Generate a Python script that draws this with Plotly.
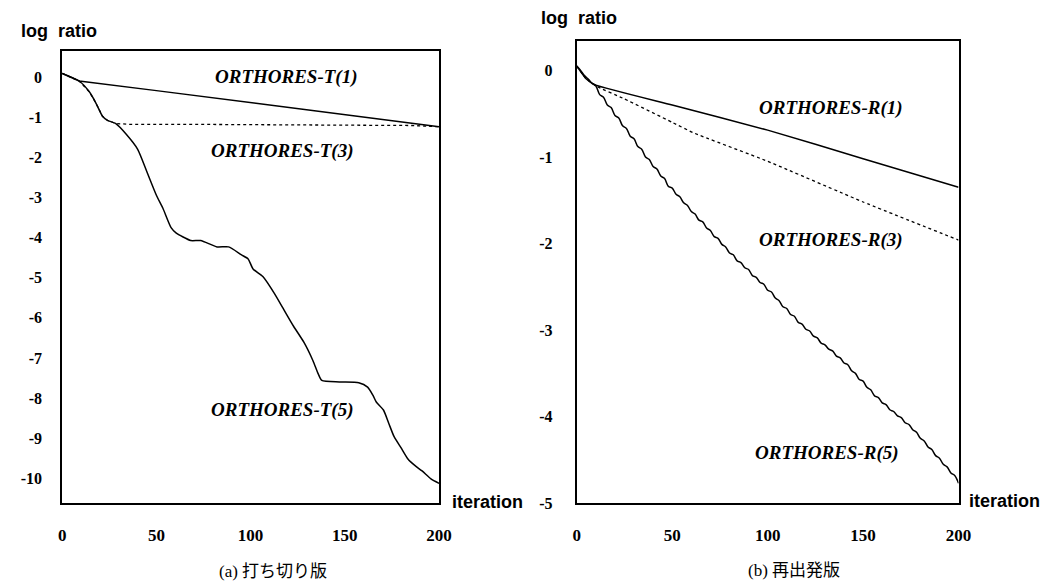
import plotly.graph_objects as go

# ---------------- data ----------------
# (a) truncated version
t1_x = [0, 9, 50, 100, 150, 200]
t1_y = [0.10, -0.09, -0.33, -0.63, -0.93, -1.23]

t3_x = [0, 9, 14.4, 17.9, 21.4, 24, 28.3, 35, 60, 100, 150, 185, 200]
t3_y = [0.10, -0.09, -0.36, -0.64, -0.97, -1.07, -1.15, -1.17, -1.17, -1.18, -1.19, -1.20, -1.23]

t5_x = [0, 9, 14.4, 17.9, 21.4, 24, 28.3, 34, 40, 45, 50, 53.4, 57.8, 60.4, 68.2, 73.5,
        82.2, 88.3, 95.2, 98.7, 101.3, 106.5, 112.6, 117.2, 122.8, 128.4, 133.1, 135.9,
        137.8, 147.1, 157.4, 162.1, 164.9, 166.7, 170.5, 173.3, 176.1, 179.8, 183.6,
        187.3, 191, 195.7, 200]
t5_y = [0.10, -0.09, -0.36, -0.64, -0.97, -1.07, -1.15, -1.42, -1.79, -2.36, -2.94, -3.26,
        -3.75, -3.88, -4.07, -4.07, -4.23, -4.23, -4.43, -4.53, -4.78, -4.97, -5.39, -5.76,
        -6.21, -6.62, -7.07, -7.40, -7.56, -7.60, -7.62, -7.73, -7.93, -8.10, -8.30, -8.63,
        -8.96, -9.24, -9.53, -9.69, -9.82, -10.02, -10.13]

# (b) restarted version
r1_x = [0, 5, 10, 50, 100, 150, 200]
r1_y = [0.05, -0.10, -0.17, -0.40, -0.69, -1.02, -1.35]

r3_x = [0, 5, 10, 25, 50, 61, 100, 150, 200]
r3_y = [0.05, -0.10, -0.18, -0.33, -0.60, -0.72, -1.05, -1.52, -1.96]

r5_x = [0, 2, 4, 6, 8, 10, 12, 14, 16, 18, 20, 22, 24, 26, 28, 30, 32, 34, 36, 38, 40,
        42, 44, 46, 48, 50, 52, 54, 56, 58, 60, 62, 64, 66, 68, 70, 72, 74, 76, 78, 80,
        82, 84, 86, 88, 90, 92, 94, 96, 98, 100, 102, 104, 106, 108, 110, 112, 114, 116,
        118, 120, 122, 124, 126, 128, 130, 132, 134, 136, 138, 140, 142, 144, 146, 148,
        150, 152, 154, 156, 158, 160, 162, 164, 166, 168, 170, 172, 174, 176, 178, 180,
        182, 184, 186, 188, 190, 192, 194, 196, 198, 200]
r5_y = [0.05, 0.00, -0.06, -0.10, -0.15, -0.18, -0.28, -0.31, -0.40, -0.43, -0.52, -0.55,
        -0.64, -0.67, -0.76, -0.79, -0.88, -0.91, -1.00, -1.03, -1.11, -1.14, -1.22, -1.25,
        -1.34, -1.36, -1.43, -1.46, -1.53, -1.56, -1.63, -1.66, -1.73, -1.75, -1.82, -1.85,
        -1.92, -1.94, -2.01, -2.04, -2.11, -2.13, -2.20, -2.22, -2.28, -2.30, -2.37, -2.39,
        -2.45, -2.47, -2.54, -2.56, -2.63, -2.66, -2.73, -2.75, -2.82, -2.84, -2.91, -2.93,
        -2.99, -3.01, -3.07, -3.09, -3.15, -3.17, -3.22, -3.24, -3.30, -3.32, -3.38, -3.40,
        -3.47, -3.50, -3.57, -3.59, -3.66, -3.69, -3.76, -3.78, -3.84, -3.86, -3.92, -3.94,
        -3.99, -4.01, -4.07, -4.09, -4.15, -4.18, -4.25, -4.28, -4.35, -4.38, -4.45, -4.48,
        -4.55, -4.58, -4.65, -4.68, -4.77]

x_ticks = [0, 50, 100, 150, 200]
x_tick_text = ["0", "50", "100", "150", "200"]
ya_ticks = [0, -1, -2, -3, -4, -5, -6, -7, -8, -9, -10]
ya_tick_text = ["0", "-1", "-2", "-3", "-4", "-5", "-6", "-7", "-8", "-9", "-10"]
yb_ticks = [0, -1, -2, -3, -4, -5]
yb_tick_text = ["0", "-1", "-2", "-3", "-4", "-5"]

labels_a = ["ORTHORES-T(1)", "ORTHORES-T(3)", "ORTHORES-T(5)"]
labels_b = ["ORTHORES-R(1)", "ORTHORES-R(3)", "ORTHORES-R(5)"]
captions = ["(a) 打ち切り版", "(b) 再出発版"]
y_title = "log\u00a0 ratio"
x_title = "iteration"

# ---------------- figure ----------------
W, H = 1058, 584
fig = go.Figure()

solid = dict(color="black", width=1.5)
dotted = dict(color="black", width=1.3, dash="dot")

fig.add_trace(go.Scatter(x=t1_x, y=t1_y, mode="lines", line=solid, xaxis="x", yaxis="y"))
fig.add_trace(go.Scatter(x=t3_x, y=t3_y, mode="lines", line=dotted, xaxis="x", yaxis="y"))
fig.add_trace(go.Scatter(x=t5_x, y=t5_y, mode="lines", line=dict(solid, shape="spline", smoothing=0.6),
                         xaxis="x", yaxis="y"))
fig.add_trace(go.Scatter(x=r1_x, y=r1_y, mode="lines", line=dict(solid, shape="spline", smoothing=0.4),
                         xaxis="x2", yaxis="y2"))
fig.add_trace(go.Scatter(x=r3_x, y=r3_y, mode="lines", line=dict(dotted, shape="spline", smoothing=0.4),
                         xaxis="x2", yaxis="y2"))
fig.add_trace(go.Scatter(x=r5_x, y=r5_y, mode="lines", line=dict(solid, shape="spline", smoothing=1.0),
                         xaxis="x2", yaxis="y2"))

def px_x(p):
    return p / W

def px_y(p):
    return 1 - p / H

serif_tick_x = dict(family="Liberation Serif", size=17, color="black", weight="bold")
serif_tick_y = dict(family="Liberation Serif", size=16, color="black", weight="bold")

common_x = dict(range=[0, 200], showgrid=False, zeroline=False, showline=True, mirror=True,
                linecolor="black", linewidth=2, tickmode="array", tickvals=x_ticks,
                ticktext=x_tick_text, ticks="outside", ticklen=15,
                tickcolor="rgba(0,0,0,0)", tickfont=serif_tick_x, fixedrange=True)
common_y = dict(showgrid=False, zeroline=False, showline=True, mirror=True,
                linecolor="black", linewidth=2, tickmode="array", ticks="outside",
                tickcolor="rgba(0,0,0,0)", tickfont=serif_tick_y, fixedrange=True)

fig.update_layout(
    width=W, height=H,
    margin=dict(l=0, r=0, t=0, b=0),
    paper_bgcolor="white", plot_bgcolor="white",
    showlegend=False,
    xaxis=dict(common_x, domain=[px_x(51), px_x(434)], anchor="y"),
    yaxis=dict(common_y, domain=[px_y(503), px_y(43.5)], range=[-10.627, 0.663],
               tickvals=ya_ticks, ticktext=ya_tick_text, ticklen=15, anchor="x"),
    xaxis2=dict(common_x, domain=[px_x(574), px_x(962)], anchor="y2"),
    yaxis2=dict(common_y, domain=[px_y(503), px_y(34)], range=[-5.0, 0.334],
                tickvals=yb_ticks, ticktext=yb_tick_text, ticklen=19, anchor="x2"),
)

lab_font = dict(family="Liberation Serif", size=19, color="black")
ann = []
for txt, x, y in zip(labels_a, [119, 117, 117], [0.0, -1.83, -8.29]):
    ann.append(dict(text="<b><i>" + txt + "</i></b>", x=x, y=y, xref="x", yref="y",
                    showarrow=False, font=lab_font, xanchor="center", yanchor="middle"))
for txt, x, y in zip(labels_b, [133.3, 133.3, 131.1], [-0.43, -1.956, -4.42]):
    ann.append(dict(text="<b><i>" + txt + "</i></b>", x=x, y=y, xref="x2", yref="y2",
                    showarrow=False, font=lab_font, xanchor="center", yanchor="middle"))

sans_bold = dict(family="Liberation Sans", size=18, color="black", weight="bold")
for x, y in [(7, 23), (536, 10)]:
    ann.append(dict(text=y_title, x=px_x(x), y=px_y(y), xref="paper", yref="paper",
                    showarrow=False, font=sans_bold, xanchor="left", yanchor="middle"))
for x, y in [(445, 502), (971, 501)]:
    ann.append(dict(text=x_title, x=px_x(x), y=px_y(y), xref="paper", yref="paper",
                    showarrow=False, font=sans_bold, xanchor="left", yanchor="middle"))

cap_font = dict(family="Liberation Serif, Noto Sans CJK JP", size=17, color="black")
for txt, x, y in zip(captions, [265, 795], [572, 571]):
    ann.append(dict(text=txt, x=px_x(x), y=px_y(y), xref="paper", yref="paper",
                    showarrow=False, font=cap_font, xanchor="center", yanchor="middle"))

fig.update_layout(annotations=ann)
fig.write_html("out.html")
